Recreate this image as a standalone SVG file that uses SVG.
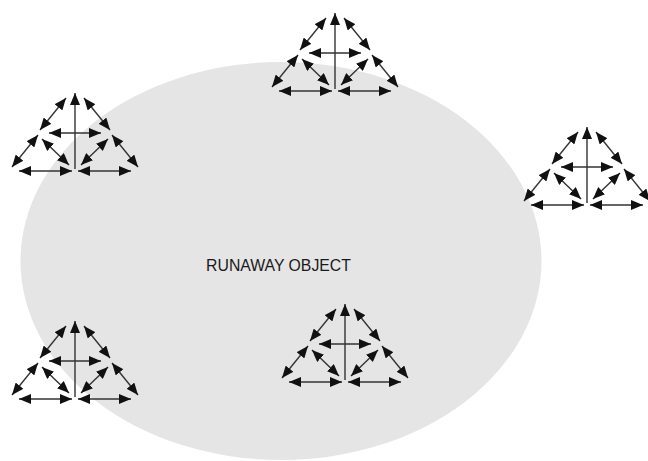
<svg xmlns="http://www.w3.org/2000/svg" xmlns:xlink="http://www.w3.org/1999/xlink" width="648" height="461" viewBox="0 0 648 461">
  <style>
    .bg { fill: #ffffff; }
    .obj { fill: #e5e5e5; }
    .arr { stroke: #333333; stroke-width: 1.4; fill: none; marker-end: url(#ah); }
    .dbl { marker-start: url(#ah); }
    .label { font-family: "Liberation Sans", Arial, sans-serif; font-size: 15.8px; fill: #1a1a1a; }
  </style>
  <defs>
    <marker id="ah" markerUnits="userSpaceOnUse" markerWidth="12" markerHeight="10" refX="12" refY="5" orient="auto-start-reverse" viewBox="0 0 12 10">
      <path d="M0,0 L12,5 L0,10 Z" fill="#111111"/>
    </marker>
    <g id="arrowCluster">
      <line class="arr" x1="0" y1="-2" x2="0" y2="-78"/>
      <line class="arr dbl" x1="-9" y1="-73" x2="-35" y2="-41"/>
      <line class="arr dbl" x1="9" y1="-73" x2="35" y2="-41"/>
      <line class="arr dbl" x1="-26" y1="-38" x2="26" y2="-38"/>
      <line class="arr dbl" x1="-37" y1="-36" x2="-63" y2="-4"/>
      <line class="arr dbl" x1="37" y1="-36" x2="63" y2="-4"/>
      <line class="arr dbl" x1="-33" y1="-32" x2="-6" y2="-6"/>
      <line class="arr dbl" x1="33" y1="-32" x2="6" y2="-6"/>
      <line class="arr dbl" x1="-56" y1="0" x2="-3" y2="0"/>
      <line class="arr dbl" x1="56" y1="0" x2="3" y2="0"/>
    </g>
  </defs>
  <rect class="bg" x="0" y="0" width="648" height="461"/>
  <g id="runaway-object">
    <ellipse class="obj" cx="281" cy="261" rx="260.5" ry="199"/>
    <text class="label" x="278.5" y="271" text-anchor="middle">RUNAWAY OBJECT</text>
  </g>
  <g id="connectors">
    <g id="cluster-top"><use xlink:href="#arrowCluster" href="#arrowCluster" transform="translate(335,91)"/></g>
    <g id="cluster-left-upper"><use xlink:href="#arrowCluster" href="#arrowCluster" transform="translate(75,171)"/></g>
    <g id="cluster-right"><use xlink:href="#arrowCluster" href="#arrowCluster" transform="translate(587,205)"/></g>
    <g id="cluster-left-lower"><use xlink:href="#arrowCluster" href="#arrowCluster" transform="translate(75,399)"/></g>
    <g id="cluster-center-lower"><use xlink:href="#arrowCluster" href="#arrowCluster" transform="translate(345,382)"/></g>
  </g>
</svg>
